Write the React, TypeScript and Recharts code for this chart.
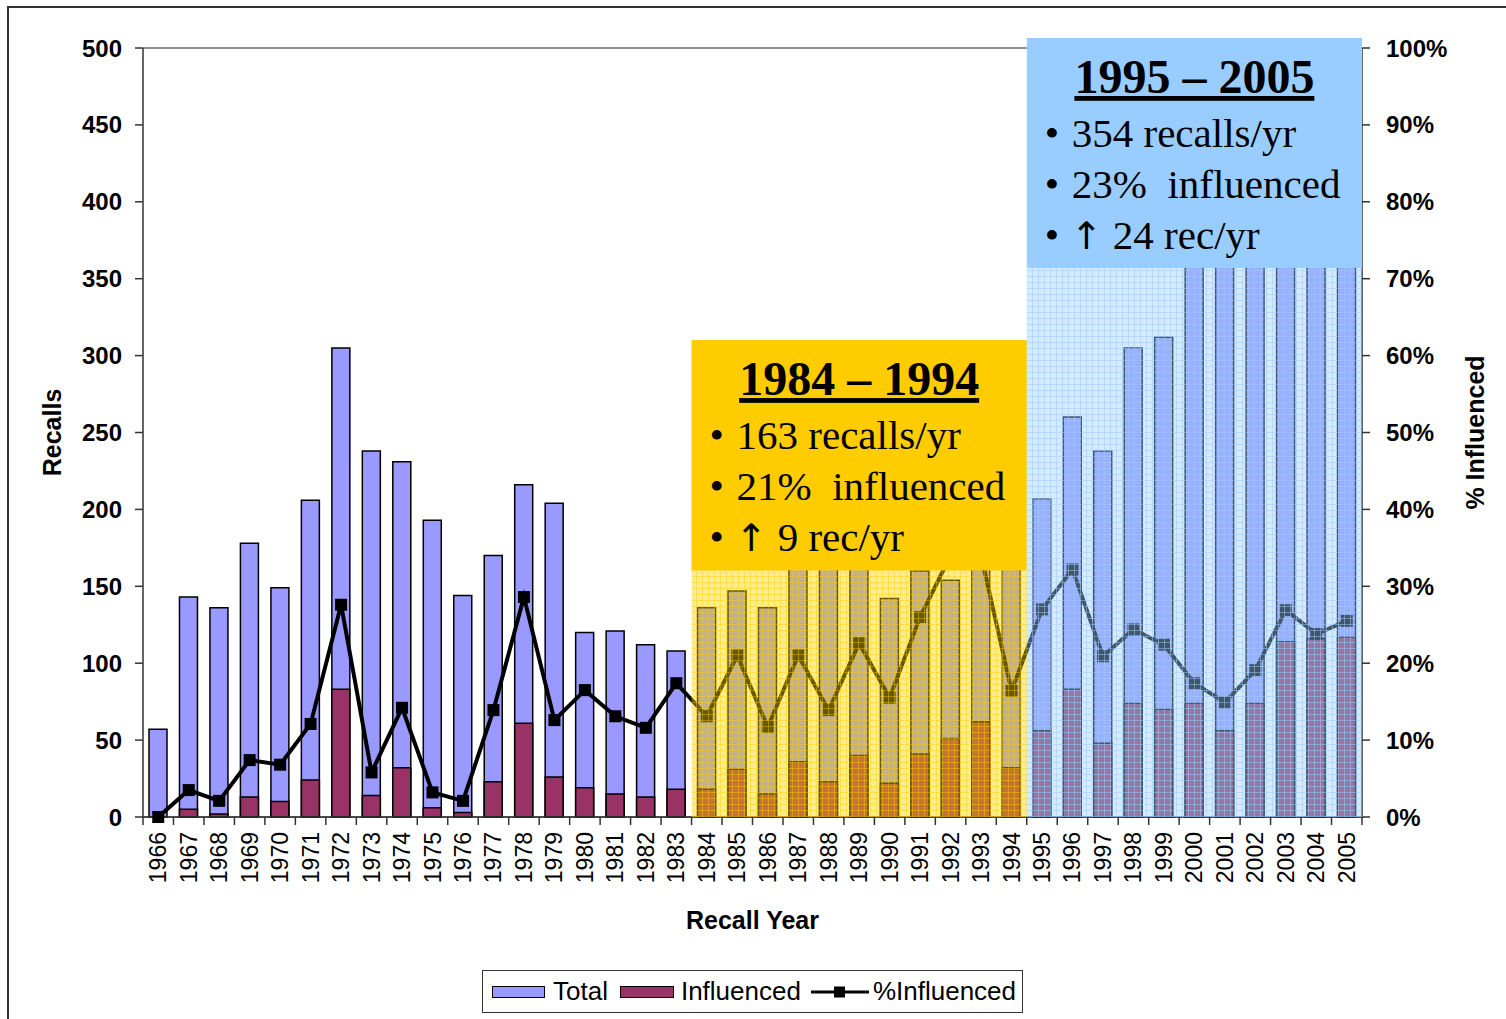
import React from 'react';
import {
  ComposedChart,
  Bar,
  Line,
  XAxis,
  YAxis,
  CartesianGrid,
  ReferenceArea,
} from 'recharts';

const years = [
  '1966', '1967', '1968', '1969', '1970', '1971', '1972', '1973', '1974', '1975',
  '1976', '1977', '1978', '1979', '1980', '1981', '1982', '1983', '1984', '1985',
  '1986', '1987', '1988', '1989', '1990', '1991', '1992', '1993', '1994', '1995',
  '1996', '1997', '1998', '1999', '2000', '2001', '2002', '2003', '2004', '2005',
];

const totalRecalls = [
  57, 143, 136, 178, 149, 206, 305, 238, 231, 193,
  144, 170, 216, 204, 120, 121, 112, 108, 136, 147,
  136, 173, 168, 178, 142, 160, 154, 182, 195, 207,
  260, 238, 305, 312, 425, 377, 387, 425, 485, 458,
];

const influencedRecalls = [
  0, 5, 2, 13, 10, 24, 83, 14, 32, 6,
  3, 23, 61, 26, 19, 15, 13, 18, 18, 31,
  15, 36, 23, 40, 22, 41, 51, 62, 32, 56,
  83, 48, 74, 70, 74, 56, 74, 114, 116, 117,
];

const pctInfluenced = [
  0, 3.5, 2.1, 7.4, 6.8, 12.1, 27.6, 5.8, 14.2, 3.2,
  2.1, 13.9, 28.6, 12.6, 16.5, 13.1, 11.6, 17.4, 13.1, 21.0,
  11.7, 21.0, 13.9, 22.6, 15.5, 26.0, 34.0, 34.0, 16.4, 27.0,
  32.2, 20.9, 24.4, 22.4, 17.4, 14.9, 19.1, 26.9, 23.8, 25.5,
];

const recallTicks = [0, 50, 100, 150, 200, 250, 300, 350, 400, 450, 500];
const pctTicks = [0, 10, 20, 30, 40, 50, 60, 70, 80, 90, 100];

// [arrow prefix, text]
const period1Lines: [boolean, string][] = [[false, '163 recalls/yr'], [false, '21%  influenced'], [true, '9 rec/yr']];
const period2Lines: [boolean, string][] = [[false, '354 recalls/yr'], [false, '23%  influenced'], [true, '24 rec/yr']];

const data = years.map((year, i) => ({
  year,
  total: totalRecalls[i],
  influenced: influencedRecalls[i],
  pct: pctInfluenced[i],
}));

const W = 1506;
const H = 1019;
const BAND = (W - 143 - 144) / years.length;
const SANS = 'Arial, "Liberation Sans", sans-serif';
const SERIF = '"Times New Roman", "Liberation Serif", serif';

function InfoBox(props: any) {
  const { x, y, width, height, bg, title, lines } = props;
  return (
    <g>
      <rect x={x} y={y} width={width} height={height} fill={bg} />
      <text
        x={x + width / 2}
        y={y + 55}
        textAnchor="middle"
        fontFamily={SERIF}
        fontWeight="bold"
        fontSize={48}
        textDecoration="underline"
        fill="#000"
      >
        {title}
      </text>
      {lines.map((l: [boolean, string], i: number) => (
        <g key={i}>
          <text x={x + 18} y={y + 109 + 51 * i} fontFamily={SERIF} fontSize={41} fill="#000">
            {'\u2022'}
          </text>
          {l[0] ? (
            <text x={x + 44} y={y + 109 + 51 * i} fill="#000" style={{ whiteSpace: 'pre' }}>
              <tspan fontFamily='"DejaVu Sans", sans-serif' fontSize={38}>{'\u2191'}</tspan>
              <tspan fontFamily={SERIF} fontSize={41}>{' ' + l[1]}</tspan>
            </text>
          ) : (
            <text x={x + 45} y={y + 109 + 51 * i} fontFamily={SERIF} fontSize={41} fill="#000" style={{ whiteSpace: 'pre' }}>
              {l[1]}
            </text>
          )}
        </g>
      ))}
    </g>
  );
}

function YearTick(props: any) {
  const { x, y, payload, index } = props;
  const isLast = index === years.length - 1;
  return (
    <g>
      <line x1={x - BAND / 2} x2={x - BAND / 2} y1={y - 8} y2={y} stroke="#333" strokeWidth={1.5} />
      {isLast && <line x1={x + BAND / 2} x2={x + BAND / 2} y1={y - 8} y2={y} stroke="#333" strokeWidth={1.5} />}
      <text
        x={x}
        y={y + 7}
        transform={`rotate(-90, ${x}, ${y + 7})`}
        textAnchor="end"
        dominantBaseline="central"
        fontFamily={SANS}
        fontSize={23}
        fill="#000"
      >
        {payload.value}
      </text>
    </g>
  );
}

function SquareDot(props: any) {
  const { cx, cy } = props;
  if (cx == null || cy == null) return null;
  return <rect x={cx - 6} y={cy - 6} width={12} height={12} fill="#000" />;
}

function Legend() {
  const item: React.CSSProperties = { display: 'flex', alignItems: 'center' };
  return (
    <div
      style={{
        position: 'absolute',
        left: 482,
        top: 970,
        width: 541,
        height: 43,
        boxSizing: 'border-box',
        border: '1.5px solid #333',
        display: 'flex',
        alignItems: 'center',
        paddingLeft: 9,
        fontFamily: SANS,
        fontSize: 26,
        color: '#000',
        background: '#fff',
        whiteSpace: 'nowrap',
      }}
    >
      <div style={item}>
        <span style={{ width: 53, height: 12, background: '#9999FF', border: '1.5px solid #000', boxSizing: 'border-box', marginRight: 8 }} />
        <span>Total</span>
      </div>
      <div style={{ ...item, marginLeft: 12 }}>
        <span style={{ width: 54, height: 12, background: '#993366', border: '1.5px solid #000', boxSizing: 'border-box', marginRight: 7 }} />
        <span>Influenced</span>
      </div>
      <div style={{ ...item, marginLeft: 10 }}>
        <svg width={60} height={20} style={{ marginRight: 2 }}>
          <line x1={0} x2={58} y1={10} y2={10} stroke="#000" strokeWidth={3} />
          <rect x={23} y={4.5} width={11} height={11} fill="#000" />
        </svg>
        <span>%Influenced</span>
      </div>
    </div>
  );
}

export default function App() {
  return (
    <div style={{ position: 'absolute', left: 0, top: 0, width: W, height: H, overflow: 'hidden', background: '#fff' }}>
      <div
        style={{
          position: 'absolute',
          left: 7,
          top: 6,
          width: W - 7,
          height: H - 6,
          boxSizing: 'border-box',
          borderTop: '2px solid #333',
          borderLeft: '2px solid #333',
        }}
      />
      <div style={{ position: 'absolute', left: 0, top: 0 }}>
        <ComposedChart
          width={W}
          height={H}
          data={data}
          margin={{ top: 48, right: 0, bottom: 82, left: 0 }}
          barSize={18}
          barGap={-18}
        >
          <defs>
            <pattern id="yellowGrid" width="6" height="6" patternUnits="userSpaceOnUse">
              <rect width="6" height="6" fill="#FFCC00" fillOpacity={0.42} />
              <path d="M0 0.5H6M0.5 0V6" stroke="#FFCC00" strokeOpacity={0.4} strokeWidth={1} />
            </pattern>
            <pattern id="blueGrid" width="6" height="6" patternUnits="userSpaceOnUse">
              <rect width="6" height="6" fill="#99CCFF" fillOpacity={0.42} />
              <path d="M0 0.5H6M0.5 0V6" stroke="#99CCFF" strokeOpacity={0.5} strokeWidth={1} />
            </pattern>
          </defs>
          <CartesianGrid vertical={false} stroke="#222" strokeWidth={1} />
          <XAxis
            dataKey="year"
            xAxisId={0}
            interval={0}
            height={120}
            tick={<YearTick />}
            tickLine={false}
            tickSize={8}
            tickMargin={0}
            axisLine={{ stroke: '#333', strokeWidth: 1.5 }}
            label={{
              content: (p: any) => {
                const vb = p.viewBox || { x: 143, y: 817, width: 1219 };
                return (
                  <text
                    x={vb.x + vb.width / 2}
                    y={vb.y + 103}
                    textAnchor="middle"
                    dominantBaseline="central"
                    fontFamily={SANS}
                    fontWeight="bold"
                    fontSize={25}
                    fill="#000"
                  >
                    Recall Year
                  </text>
                );
              },
            }}
          />
          <YAxis
            yAxisId="left"
            orientation="left"
            width={143}
            domain={[0, 500]}
            ticks={recallTicks}
            interval={0}
            tickSize={8}
            tickMargin={13}
            tick={{ fontFamily: SANS, fontWeight: 'bold', fontSize: 24, fill: '#000' }}
            tickLine={{ stroke: '#333', strokeWidth: 1.5 }}
            axisLine={{ stroke: '#333', strokeWidth: 1.5 }}
            label={{
              content: (p: any) => {
                const vb = p.viewBox || { x: 0, y: 48, height: 769 };
                const cx = vb.x + 52;
                const cy = vb.y + vb.height / 2;
                return (
                  <text
                    x={cx}
                    y={cy}
                    transform={`rotate(-90, ${cx}, ${cy})`}
                    textAnchor="middle"
                    dominantBaseline="central"
                    fontFamily={SANS}
                    fontWeight="bold"
                    fontSize={25}
                    fill="#000"
                  >
                    Recalls
                  </text>
                );
              },
            }}
          />
          <YAxis
            yAxisId="right"
            orientation="right"
            width={144}
            domain={[0, 100]}
            ticks={pctTicks}
            interval={0}
            tickSize={8}
            tickMargin={16}
            tickFormatter={(v: number) => `${v}%`}
            tick={{ fontFamily: SANS, fontWeight: 'bold', fontSize: 24, fill: '#000' }}
            tickLine={{ stroke: '#333', strokeWidth: 1.5 }}
            axisLine={{ stroke: '#333', strokeWidth: 1.5 }}
            label={{
              content: (p: any) => {
                const vb = p.viewBox || { x: 1362, y: 48, height: 769 };
                const cx = vb.x + 113;
                const cy = vb.y + vb.height / 2;
                return (
                  <text
                    x={cx}
                    y={cy}
                    transform={`rotate(-90, ${cx}, ${cy})`}
                    textAnchor="middle"
                    dominantBaseline="central"
                    fontFamily={SANS}
                    fontWeight="bold"
                    fontSize={25}
                    fill="#000"
                  >
                    % Influenced
                  </text>
                );
              },
            }}
          />
          <Bar yAxisId="left" dataKey="total" fill="#9999FF" stroke="#000" strokeWidth={1.5} isAnimationActive={false} />
          <Bar yAxisId="left" dataKey="influenced" fill="#993366" stroke="#000" strokeWidth={1.5} isAnimationActive={false} />
          <Line
            yAxisId="right"
            dataKey="pct"
            type="linear"
            stroke="#000"
            strokeWidth={4}
            dot={<SquareDot />}
            activeDot={false}
            isAnimationActive={false}
          />
          <ReferenceArea
            yAxisId="left"
            x1="1984"
            x2="1994"
            y1={0}
            y2={160.6}
            fill="url(#yellowGrid)"
            fillOpacity={1}
            stroke="none"
            ifOverflow="visible"
            zIndex={1500}
          />
          <ReferenceArea
            yAxisId="left"
            x1="1984"
            x2="1994"
            y1={160.6}
            y2={310.1}
            ifOverflow="visible"
            zIndex={1500}
            shape={(p: any) => <InfoBox {...p} bg="#FFCC00" title={'1984 \u2013 1994'} lines={period1Lines} />}
          />
          <ReferenceArea
            yAxisId="left"
            x1="1995"
            x2="2005"
            y1={0}
            y2={357}
            fill="url(#blueGrid)"
            fillOpacity={1}
            stroke="none"
            ifOverflow="visible"
            zIndex={1500}
          />
          <ReferenceArea
            yAxisId="left"
            x1="1995"
            x2="2005"
            y1={357}
            y2={506.5}
            ifOverflow="visible"
            zIndex={1500}
            shape={(p: any) => <InfoBox {...p} bg="#99CCFF" title={'1995 \u2013 2005'} lines={period2Lines} />}
          />
        </ComposedChart>
      </div>
      <Legend />
    </div>
  );
}
